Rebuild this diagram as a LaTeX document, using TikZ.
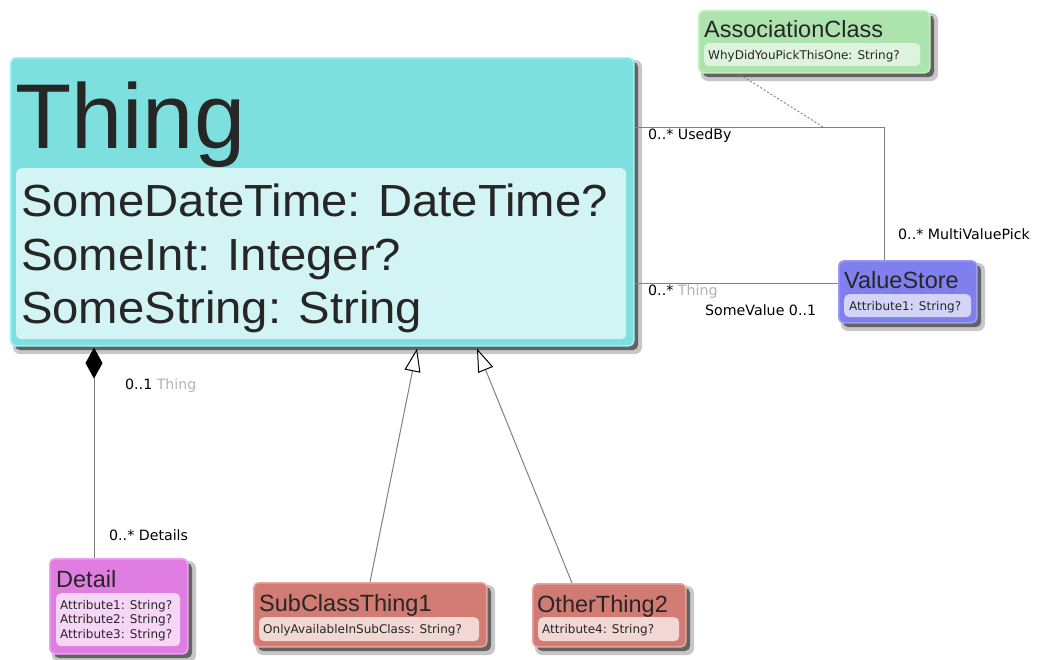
\documentclass[tikz,border=0pt]{standalone}
\usepackage{fontspec}
\setmainfont{Liberation Sans}
\newfontfamily\dejavu{DejaVu Sans}
\newfontfamily\attrfont[FakeStretch=1.05]{Liberation Sans}
\usetikzlibrary{arrows.meta}
\definecolor{thingfill}{HTML}{7EDFDF}\definecolor{thingin}{HTML}{D3F4F4}\definecolor{thingedge}{HTML}{9CF4F4}
\definecolor{assocfill}{HTML}{ADE3AD}\definecolor{associn}{HTML}{DEF3DE}\definecolor{assocedge}{HTML}{C3EFC3}
\definecolor{vsfill}{HTML}{7F7FEE}\definecolor{vsin}{HTML}{D4D4F9}\definecolor{vsedge}{HTML}{9C9CF8}
\definecolor{detfill}{HTML}{E07DE0}\definecolor{detin}{HTML}{F6D5F6}\definecolor{detedge}{HTML}{F0A0F0}
\definecolor{subfill}{HTML}{D27B73}\definecolor{subin}{HTML}{F2D8D5}\definecolor{subedge}{HTML}{EAA39D}
\definecolor{txt}{HTML}{262626}
\definecolor{linec}{HTML}{808080}
\definecolor{lgrey}{HTML}{B4B4B4}
\tikzset{
  outerbox/.style={rectangle, rounded corners=5pt, anchor=north west, inner sep=0pt, line width=1.6pt},
  innerbox/.style={rectangle, rounded corners=5pt, anchor=north west, inner sep=0pt},
  ttl/.style={anchor=base west, inner sep=0pt, text=txt, font=\fontsize{23.5}{26}\selectfont},
  sattr/.style={anchor=base west, inner sep=0pt, text=txt, font=\dejavu\fontsize{12}{14.5}\selectfont, align=left},
  elabel/.style={anchor=base west, inner sep=0pt, text=black, font=\dejavu\fontsize{14.2}{16}\selectfont},
  assoc/.style={draw=linec, line width=1pt},
}
\newcommand\shadowbox[4]{%
  \fill[black, opacity=0.22, rounded corners=7pt] (#1+3,#2+3) rectangle ++(#3+6,#4+6);
  \fill[black, opacity=0.5, rounded corners=5pt] (#1+5,#2+5) rectangle ++(#3,#4);
}
\begin{document}
\begin{tikzpicture}[x=1pt,y=-1pt]
\useasboundingbox (0,0) rectangle (1039,659);
\fill[white] (0,0) rectangle (1039,659);

% ---------- Thing ----------
\shadowbox{10}{57}{623}{288}
\node[outerbox, fill=thingfill, draw=thingedge, minimum width=623pt, minimum height=288pt] (thing) at (10,57) {};
\node[innerbox, fill=thingin, minimum width=610pt, minimum height=171pt] (thingattrs) at (16,168) {};
\node[anchor=base west, inner sep=0pt, text=txt, font=\fontsize{92}{96}\selectfont] (thingname) at (15,148) {Thing};
\node[anchor=base west, inner sep=0pt, text=txt, font=\attrfont\fontsize{45}{53}\selectfont] (ta1) at (21,216) {SomeDateTime: DateTime?};
\node[anchor=base west, inner sep=0pt, text=txt, font=\attrfont\fontsize{45}{53}\selectfont] (ta2) at (21,270) {SomeInt: Integer?};
\node[anchor=base west, inner sep=0pt, text=txt, font=\attrfont\fontsize{45}{53}\selectfont] (ta3) at (21,323) {SomeString: String};

% ---------- AssociationClass ----------
\shadowbox{698}{10}{231}{62}
\node[outerbox, fill=assocfill, draw=assocedge, minimum width=231pt, minimum height=62pt] (assoc) at (698,10) {};
\node[innerbox, fill=associn, minimum width=216pt, minimum height=23pt] (assocattrs) at (704,43) {};
\node[ttl] (assocname) at (704,37) {AssociationClass};
\node[sattr] (assoca1) at (708,59) {WhyDidYouPickThisOne: String?};

% ---------- ValueStore ----------
\shadowbox{838}{260}{138}{62}
\node[outerbox, fill=vsfill, draw=vsedge, minimum width=138pt, minimum height=62pt] (vs) at (838,260) {};
\node[innerbox, fill=vsin, minimum width=127pt, minimum height=23pt] (vsattrs) at (844,294) {};
\node[ttl] (vsname) at (844,288) {ValueStore};
\node[sattr] (vsa1) at (849,310) {Attribute1: String?};

% ---------- Detail ----------
\shadowbox{49}{558}{138}{95}
\node[outerbox, fill=detfill, draw=detedge, minimum width=138pt, minimum height=95pt] (detail) at (49,558) {};
\node[innerbox, fill=detin, minimum width=124pt, minimum height=53pt] (detailattrs) at (56,593) {};
\node[ttl] (detailname) at (56,587) {Detail};
\node[sattr] (deta1) at (60,609) {Attribute1: String?};
\node[sattr] (deta2) at (60,623) {Attribute2: String?};
\node[sattr] (deta3) at (60,638) {Attribute3: String?};

% ---------- SubClassThing1 ----------
\shadowbox{253}{582}{233}{64}
\node[outerbox, fill=subfill, draw=subedge, minimum width=233pt, minimum height=64pt] (sub) at (253,582) {};
\node[innerbox, fill=subin, minimum width=220pt, minimum height=24pt] (subattrs) at (259,617) {};
\node[ttl] (subname) at (259,611) {SubClassThing1};
\node[sattr] (suba1) at (263,633) {OnlyAvailableInSubClass: String?};

% ---------- OtherThing2 ----------
\shadowbox{532}{583}{153}{63}
\node[outerbox, fill=subfill, draw=subedge, minimum width=153pt, minimum height=63pt] (other) at (532,583) {};
\node[innerbox, fill=subin, minimum width=141pt, minimum height=24pt] (otherattrs) at (538,617) {};
\node[ttl] (othername) at (537,612) {OtherThing2};
\node[sattr] (othera1) at (542,633) {Attribute4: String?};

% ---------- connectors ----------
\coordinate (usedbymid) at (823,127);
\draw[assoc] ([yshift=-70pt]thing.north east) -| ([xshift=46pt]vs.north west);
\draw[assoc] ([yshift=-226pt]thing.north east) -- ([yshift=-23pt]vs.north west);
\draw[draw=linec, line width=0.9pt, dash pattern=on 2pt off 2pt] ([xshift=42pt,yshift=-1pt]assoc.south west) -- (usedbymid);
\draw[assoc, {Diamond[length=31pt,width=17pt,fill=black,color=black]}-] ([xshift=84pt,yshift=-1pt]thing.south west) -- ([xshift=45pt]detail.north west);
\draw[assoc, -{Triangle[length=23pt,width=16pt,fill=white,color=black,line width=1pt]}] ([xshift=117pt]sub.north west) -- ([xshift=407pt,yshift=-2pt]thing.south west);
\draw[assoc, -{Triangle[length=23pt,width=16pt,fill=white,color=black,line width=1pt]}] ([xshift=40pt]other.north west) -- ([xshift=467pt,yshift=-2pt]thing.south west);

% ---------- labels ----------
\node[elabel] (l1) at (648,139) {0..* UsedBy};
\node[elabel] (l2) at (898,239) {0..* MultiValuePick};
\node[elabel] (l3) at (648,295) {0..* \textcolor{lgrey}{Thing}};
\node[elabel] (l4) at (705,315) {SomeValue 0..1};
\node[elabel] (l5) at (125,389) {0..1 \textcolor{lgrey}{Thing}};
\node[elabel] (l6) at (109,540) {0..* Details};
\end{tikzpicture}
\end{document}
